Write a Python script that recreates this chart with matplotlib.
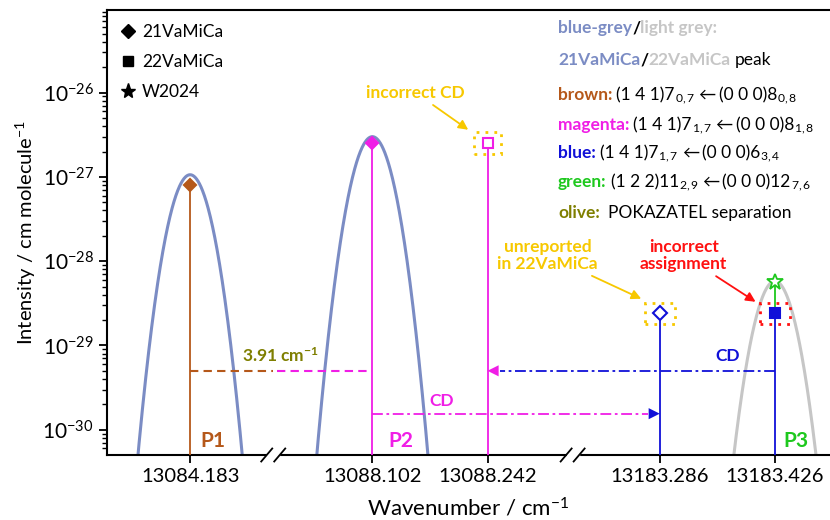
import numpy as np
import matplotlib
matplotlib.use("Agg")
import matplotlib.pyplot as plt
from matplotlib.lines import Line2D
from matplotlib.patches import Rectangle
from matplotlib.ticker import FixedLocator, NullFormatter, LogFormatterSciNotation

plt.rcParams['font.family'] = ['Lato', 'DejaVu Sans']
plt.rcParams['mathtext.fontset'] = 'custom'
plt.rcParams['mathtext.rm'] = 'Lato'
plt.rcParams['mathtext.it'] = 'Lato:italic'
plt.rcParams['mathtext.bf'] = 'Lato:bold'

# ---- donnees ----
tick_wn = [13084.183, 13088.102, 13088.242, 13183.286, 13183.426]
tick_lab = ["13084.183", "13088.102", "13088.242", "13183.286", "13183.426"]
decades = [-30, -29, -28, -27, -26]

# axe casse : debut de chaque segment (cm-1) et sa place sur l'axe
seg_start = [13084.183, 13088.102, 13183.286]
seg_pos = [83, 265, 552]
pos_par_cm = 821.4
break_pos = [166, 465]
x_max = 722

# pics (profils gaussiens)
pic_wn = [13084.183, 13088.102, 13183.426]
pic_int = [1.06e-27, 3.0e-27, 5.8e-29]
pic_sigma = 0.0162
pic_col = ["#7b8cc4", "#7b8cc4", "#c6c6c6"]

# raies (bâtons)
raie_wn = [13084.183, 13088.102, 13088.242, 13183.286, 13183.426]
raie_int = [8.0e-28, 2.5e-27, 2.5e-27, 2.4e-29, 2.4e-29]
raie_col = ["#b5581a", "#f01ee6", "#f01ee6", "#1010d8", "#1010d8"]
raie_mk = ["D", "D", "s", "D", "s"]
raie_plein = [True, True, False, False, True]

w2024_wn = 13183.426
w2024_int = 5.6e-29

sep_int = 5.0e-30      # ligne 3.91 cm-1
cd_int = [5.0e-30, 1.55e-30]

Y_MIN, Y_MAX = 10**-30.3, 10**-25.02

BROWN = "#b5581a"
MAG = "#f01ee6"
BLUE = "#1010d8"
GREEN = "#1ec81e"
OLIVE = "#7f7f00"
GOLD = "#f7c800"
RED = "#ff1010"
BGREY = "#7b8cc4"
LGREY = "#c6c6c6"


def wn2x(wn):
    i = 0
    for k in range(len(seg_start)):
        if wn >= seg_start[k] - 1.0:
            i = k
    return seg_pos[i] + (wn - seg_start[i]) * pos_par_cm


fig = plt.figure(figsize=(8.3, 5.2), dpi=100)
ax = fig.add_axes([107/830, 65/520, 723/830, 445/520])
ax.set_yscale("log")
ax.set_xlim(0, x_max)
ax.set_ylim(Y_MIN, Y_MAX)

# pics
for c, a, col in zip(pic_wn, pic_int, pic_col):
    w = np.linspace(c - 0.09, c + 0.09, 400)
    prof = a * np.exp(-(w - c)**2 / (2 * pic_sigma**2))
    ax.plot([wn2x(v) for v in w], prof, color=col, lw=2.2, zorder=2)

# batons + marqueurs
for wn, y, col, mk, plein in zip(raie_wn, raie_int, raie_col, raie_mk, raie_plein):
    x = wn2x(wn)
    ax.plot([x, x], [Y_MIN, y], color=col, lw=1.3, zorder=3)
    if mk == "s":
        taille = 7
    else:
        taille = 6.5 if plein else 7.5
    ax.plot(x, y, marker=mk, ms=taille, color=col,
            mfc=col if plein else "white", mec=col, mew=1.5, zorder=5)

xw = wn2x(w2024_wn)
ax.plot([xw, xw], [raie_int[4], w2024_int], color=GREEN, lw=1.3, zorder=3)
ax.plot(xw, w2024_int, marker="*", ms=12, mfc="white", mec=GREEN, mew=1.3, zorder=5)

# separation POKAZATEL 3.91 cm-1
x1, x2 = wn2x(raie_wn[0]), wn2x(raie_wn[1])
ax.plot([x1, break_pos[0]], [sep_int, sep_int], color=BROWN, lw=1.5, dashes=(4, 2.5))
ax.plot([break_pos[0] + 4, x2], [sep_int, sep_int], color=MAG, lw=1.5, dashes=(4, 2.5))
ax.text(173, sep_int * 10**0.18, r"3.91 cm$^{\mathbf{-1}}$", color=OLIVE,
        fontsize=12.5, fontweight="bold", ha="center", va="center")

# CD bleu : 13183.426 -> 13088.242
xa, xb = wn2x(raie_wn[4]), wn2x(raie_wn[2])
ax.plot([xa, xb + 12], [cd_int[0]] * 2, color=BLUE, lw=1.3, dashes=(6, 2, 1.5, 2))
ax.annotate("", xy=(xb, cd_int[0]), xytext=(xb + 14, cd_int[0]),
            arrowprops=dict(arrowstyle="-|>", color=MAG, lw=0, mutation_scale=20,
                            shrinkA=0, shrinkB=0))
ax.text(620, cd_int[0] * 10**0.17, "CD", color=BLUE, fontsize=12.5,
        fontweight="bold", ha="center", va="center")

# CD magenta : 13088.102 -> 13183.286
xa, xb = wn2x(raie_wn[1]), wn2x(raie_wn[3])
ax.plot([xa, xb - 12], [cd_int[1]] * 2, color=MAG, lw=1.3, dashes=(6, 2, 1.5, 2))
ax.annotate("", xy=(xb, cd_int[1]), xytext=(xb - 14, cd_int[1]),
            arrowprops=dict(arrowstyle="-|>", color=BLUE, lw=0, mutation_scale=20,
                            shrinkA=0, shrinkB=0))
ax.text(334, cd_int[1] * 10**0.15, "CD", color=MAG, fontsize=12.5,
        fontweight="bold", ha="center", va="center")

# etiquettes P1 P2 P3
for wn, lab, col, dx in [(raie_wn[0], "P1", BROWN, 23), (raie_wn[1], "P2", MAG, 28),
                         (raie_wn[4], "P3", GREEN, 21)]:
    ax.text(wn2x(wn) + dx, 10**-30.13, lab, color=col, fontsize=15,
            fontweight="bold", ha="center", va="center")


# cadres pointilles
def cadre(x, y, w_px, h_px, col):
    dec = h_px / 84 / 2
    ax.add_patch(Rectangle((x - w_px/2, y / 10**dec), w_px, y * 10**dec - y / 10**dec,
                           fill=False, ec=col, ls=(0, (1, 2.2)), lw=2, zorder=4))


cadre(wn2x(raie_wn[2]), raie_int[2], 27, 22, GOLD)
cadre(wn2x(raie_wn[3]), raie_int[3], 30, 21, GOLD)
cadre(wn2x(raie_wn[4]), raie_int[4], 30, 21, RED)

# annotations avec fleches
fl = dict(arrowstyle="-|>", lw=1.3, mutation_scale=14, shrinkA=2, shrinkB=2)
ax.annotate("incorrect CD", xy=(363, 10**-26.46), xytext=(308, 1e-26),
            color=GOLD, fontsize=12.5, fontweight="bold", ha="center", va="center",
            arrowprops=dict(color=GOLD, **fl))
ax.annotate("unreported\nin 22VaMiCa", xy=(536, 10**-28.46), xytext=(440, 10**-27.93),
            color=GOLD, fontsize=12.5, fontweight="bold", ha="center", va="center",
            linespacing=1.1, arrowprops=dict(color=GOLD, **fl))
ax.annotate("incorrect\nassignment", xy=(650, 10**-28.5), xytext=(576, 10**-27.93),
            color=RED, fontsize=12.5, fontweight="bold", ha="center", va="center",
            linespacing=1.1, arrowprops=dict(color=RED, **fl))

# legende
poignees = [Line2D([], [], ls="none", marker="D", color="k", ms=7),
            Line2D([], [], ls="none", marker="s", color="k", ms=7.5),
            Line2D([], [], ls="none", marker="*", color="k", ms=11)]
ax.legend(poignees, ["21VaMiCa", "22VaMiCa", "W2024"], loc="upper left",
          frameon=False, fontsize=12.5, handlelength=0.8, handletextpad=0.4,
          labelspacing=0.8, borderaxespad=0.5, borderpad=0.3)

# axes, ticks
ax.set_xticks([wn2x(v) for v in tick_wn], tick_lab)
majeurs = [10.0**d for d in decades]
mineurs = [m * 10.0**d for d in [-31] + decades for m in range(2, 10)]
mineurs = [v for v in mineurs if Y_MIN <= v <= Y_MAX]
ax.yaxis.set_major_locator(FixedLocator(majeurs))
ax.yaxis.set_major_formatter(LogFormatterSciNotation())
ax.yaxis.set_minor_locator(FixedLocator(mineurs))
ax.yaxis.set_minor_formatter(NullFormatter())
ax.tick_params(axis="both", which="major", length=6, width=1.3, direction="out")
ax.tick_params(axis="x", which="major", labelsize=14.5)
ax.tick_params(axis="y", which="major", labelsize=15)
ax.tick_params(axis="y", which="minor", length=3.5, width=1.0, direction="out")
ax.spines["right"].set_visible(False)
for s in ["left", "bottom", "top"]:
    ax.spines[s].set_linewidth(1.5)
ax.set_xlabel("Wavenumber / cm$^{-1}$", fontsize=16, labelpad=8)
ax.set_ylabel("Intensity / cm molecule$^{-1}$", fontsize=14.5, labelpad=3)

# marques de coupure //
for bp in break_pos:
    xf = bp / x_max
    dx, dy = 5.5 / 723, 6.5 / 445
    ax.add_patch(Rectangle((xf - 6 / 723, -3 / 445), 12 / 723, 6 / 445,
                           transform=ax.transAxes, color="white", clip_on=False, zorder=10))
    for off in (-6.5 / 723, 6.5 / 723):
        ax.plot([xf + off - dx, xf + off + dx], [-dy, dy], color="k", lw=1.3,
                transform=ax.transAxes, clip_on=False, zorder=11)

# bloc de texte multicolore a droite
rend = fig.canvas.get_renderer()


def ligne(px, py, morceaux, taille=12.5):
    x = px / 830
    for s, col, poids, ecart in morceaux:
        x += ecart / 830
        t = fig.text(x, 1 - py / 520, s, color=col, fontsize=taille, fontweight=poids,
                     ha="left", va="baseline")
        x += t.get_window_extent(rend).width / 830


B, N = "bold", "normal"
ligne(558, 33, [("blue-grey", BGREY, B, 0), ("/", "k", B, 0), ("light grey:", LGREY, B, 0)])
ligne(558, 65, [("21VaMiCa", BGREY, B, 0), ("/", "k", B, 0), ("22VaMiCa", LGREY, B, 0),
                ("peak", "k", N, 4)])
transitions = [("brown:", BROWN, "(1 4 1)7", "0,7", "(0 0 0)8", "0,8", 100),
               ("magenta:", MAG, "(1 4 1)7", "1,7", "(0 0 0)8", "1,8", 130),
               ("blue:", BLUE, "(1 4 1)7", "1,7", "(0 0 0)6", "3,4", 158),
               ("green:", GREEN, "(1 2 2)11", "2,9", "(0 0 0)12", "7,6", 187)]
for nom, col, haut, sh, bas, sb, py in transitions:
    ligne(558, py, [(nom, col, B, 0), (haut, "k", N, 4), ("$_{%s}$" % sh, "k", N, 0),
                    ("\u2190", "k", N, 3), (bas, "k", N, 3), ("$_{%s}$" % sb, "k", N, 0)])
ligne(558, 218, [("olive:", OLIVE, B, 0), ("POKAZATEL separation", "k", N, 8)])

fig.savefig("out.png", dpi=100)
